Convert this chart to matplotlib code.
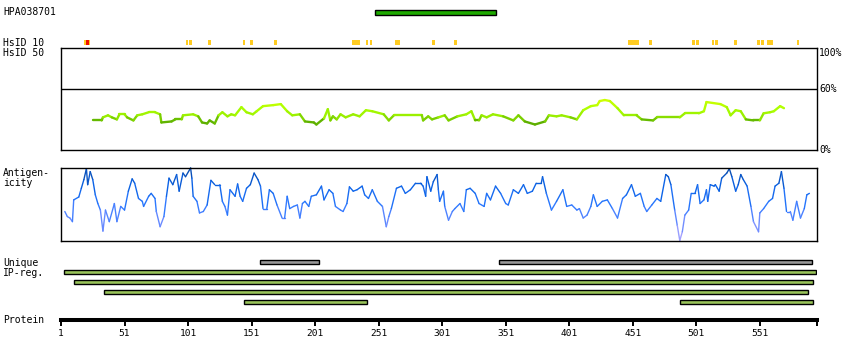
import numpy as np
import matplotlib
matplotlib.use('Agg')
import matplotlib.pyplot as plt
from matplotlib.collections import LineCollection
from matplotlib.colors import LinearSegmentedColormap

plt.rcParams['font.family'] = 'DejaVu Sans Mono'

W, H = 850, 360
L = 596  # protein length

antigen = 'HPA038701'
antigen_span = (248, 343)

# HsID 10 hits (start, end residue)
hsid10_yellow = [(19, 24), (99, 101), (102, 104), (117, 119), (144, 146), (150, 152),
                 (169, 171), (230, 236), (241, 243), (244, 246), (264, 268), (293, 295),
                 (310, 313), (447, 456), (464, 466), (498, 500), (501, 503), (513, 515),
                 (516, 518), (531, 533), (549, 551), (552, 554), (557, 561), (580, 582)]
hsid10_red = [(21, 23)]

# HsID 50 identity (%)
hsid50_res = [26, 33, 34, 38, 41, 45, 47, 51, 53, 58, 61, 65, 70, 75, 79, 80, 88, 91, 96, 97,
              105, 109, 112, 116, 118, 122, 125, 128, 132, 135, 138, 143, 147, 152, 155, 160,
              168, 174, 179, 183, 189, 193, 200, 202, 208, 211, 213, 215, 218, 221, 225, 231,
              236, 241, 246, 255, 259, 263, 285, 286, 290, 293, 298, 303, 306, 313, 320, 324,
              327, 330, 332, 336, 341, 349, 357, 361, 366, 374, 382, 385, 391, 395, 402, 407,
              412, 418, 423, 425, 429, 433, 439, 444, 454, 458, 467, 470, 488, 492, 503, 507,
              509, 520, 525, 528, 532, 536, 540, 546, 551, 554, 559, 562, 567, 570]
hsid50_pct = [29, 29, 32, 34, 32, 30, 35, 35, 32, 29, 34, 35, 37, 37, 35, 27, 28, 30, 30, 34,
              35, 33, 27, 26, 29, 26, 34, 37, 33, 35, 34, 42, 37, 35, 38, 43, 44, 45, 38, 34,
              35, 28, 27, 25, 31, 40, 29, 33, 30, 35, 32, 35, 33, 39, 38, 35, 29, 34, 34, 29,
              33, 30, 32, 34, 29, 33, 35, 38, 29, 29, 34, 32, 35, 33, 29, 34, 28, 25, 28, 34,
              33, 34, 32, 30, 39, 43, 44, 48, 49, 48, 41, 34, 34, 30, 29, 32, 32, 36, 36, 38,
              47, 45, 42, 34, 39, 38, 30, 29, 29, 36, 37, 38, 43, 41]

# antigenicity (relative, 0-100)
antig_res = [4, 6, 8, 10, 11, 15, 17, 19, 21, 22, 24, 26, 28, 30, 32, 34, 36, 39, 43, 45, 48,
             51, 54, 57, 59, 62, 65, 66, 70, 72, 75, 76, 79, 82, 84, 86, 89, 92, 94, 97, 99,
             103, 104, 105, 108, 110, 113, 116, 119, 122, 126, 128, 130, 132, 134, 138, 140,
             142, 144, 147, 150, 153, 156, 158, 160, 163, 165, 168, 171, 175, 177, 179, 181,
             184, 187, 189, 191, 193, 196, 198, 202, 206, 208, 212, 215, 217, 221, 223, 226,
             228, 231, 234, 238, 240, 243, 246, 250, 254, 257, 259, 261, 265, 269, 272, 276,
             280, 284, 286, 288, 289, 292, 294, 297, 298, 299, 302, 303, 306, 309, 311, 315,
             318, 320, 323, 327, 330, 334, 336, 339, 343, 347, 351, 353, 357, 361, 365, 368,
             372, 375, 379, 380, 383, 387, 391, 396, 399, 403, 407, 409, 412, 415, 418, 420,
             423, 427, 431, 435, 439, 443, 446, 450, 453, 457, 460, 462, 466, 470, 473, 477,
             479, 481, 484, 486, 488, 490, 492, 495, 497, 500, 502, 504, 507, 509, 510, 512,
             515, 516, 519, 521, 525, 527, 529, 532, 534, 536, 538, 541, 544, 546, 550, 551,
             554, 558, 561, 563, 566, 568, 570, 572, 575, 577, 580, 583, 586, 588, 590]
antig_val = [40, 33, 31, 26, 56, 60, 72, 84, 99, 77, 95, 84, 63, 51, 42, 13, 42, 26, 51, 26, 47,
             42, 68, 85, 79, 58, 54, 47, 61, 65, 58, 40, 19, 33, 61, 86, 77, 91, 68, 93, 88,
             100, 86, 61, 54, 38, 40, 49, 83, 77, 77, 54, 47, 35, 70, 61, 78,
             61, 54, 72, 77, 93, 84, 75, 44, 44, 70, 65, 49, 31, 31, 61, 44,
             47, 49, 31, 51, 54, 47, 61, 63, 75, 56, 70, 65, 47, 42, 40, 51,
             74, 68, 70, 75, 63, 58, 70, 54, 47, 19, 33, 44, 72, 75, 65, 70,
             79, 79, 75, 61, 88, 68, 81, 91, 70, 54, 68, 47, 28, 40, 44, 51,
             40, 70, 72, 65, 51, 47, 65, 56, 75, 65, 51, 49, 70, 65, 77, 65,
             68, 79, 79, 88, 65, 42, 54, 70, 47, 49, 42, 44, 31, 35, 47, 63,
             47, 54, 56, 44, 31, 58, 63, 77, 61, 65, 47, 40, 49, 58, 54, 91,
             88, 77, 42, 21, 0, 12, 35, 42, 65, 65, 77, 51, 56, 70, 54, 77,
             75, 77, 68, 86, 93, 99, 88, 68, 77, 91, 84, 75, 47, 26, 12, 38,
             44, 54, 58, 75, 79, 95, 72, 40, 40, 28, 54, 31, 44, 63, 65]

unique_regions = [(158, 204), (346, 592)]
ip_rows = [[(3, 595)], [(11, 593)], [(35, 589)], [(145, 242), (488, 593)]]

prot_ticks = [1, 51, 101, 151, 201, 251, 301, 351, 401, 451, 501, 551]

fig = plt.figure(figsize=(W / 100, H / 100), dpi=100)


def px_axes(x0, y0, x1, y1):
    # pixel box (top-left origin) -> figure axes
    return fig.add_axes([x0 / W, 1 - y1 / H, (x1 - x0) / W, (y1 - y0) / H])


def colored_line(ax, x, y, cmap, vmin, vmax, lw):
    pts = np.column_stack([x, y]).astype(float)
    segs = np.stack([pts[:-1], pts[1:]], axis=1)
    lc = LineCollection(segs, cmap=cmap, norm=plt.Normalize(vmin, vmax),
                        linewidths=lw, capstyle='round', clip_on=False)
    lc.set_array((pts[:-1, 1] + pts[1:, 1]) / 2)
    ax.add_collection(lc)


X0, X1 = 61, 817

# tracks (bars, hit marks) in pixel rows
ax = px_axes(X0, 0, X1, H)
ax.set_xlim(1, L)
ax.set_ylim(H, 0)
ax.axis('off')

ax.barh(12.3, antigen_span[1] - antigen_span[0], left=antigen_span[0], height=4.7,
        color='#1eaa00', edgecolor='black', linewidth=1)

for s, e in hsid10_yellow:
    ax.barh(42.5, e - s, left=s, height=5, color='#ffcc22', linewidth=0)
for s, e in hsid10_red:
    ax.barh(42.5, e - s, left=s, height=5, color='#ee1100', linewidth=0)

for s, e in unique_regions:
    ax.barh(262.3, e - s, left=s, height=4, color='#999999', edgecolor='black', linewidth=1)
for i, row in enumerate(ip_rows):
    for s, e in row:
        ax.barh(272.3 + 10 * i, e - s, left=s, height=4, color='#99c45a',
                edgecolor='black', linewidth=1)

# HsID 50 panel
ax_h = px_axes(X0, 48, X1, 150)
ax_h.set_xlim(1, L)
ax_h.set_ylim(0, 100)
ax_h.set_xticks([])
ax_h.set_yticks([])
for sp in ax_h.spines.values():
    sp.set_linewidth(1)
ax_h.axhline(60, color='black', lw=1)
green = LinearSegmentedColormap.from_list(
    'g', [(0, '#5aaa00'), (0.2, '#66bb00'), (0.35, '#99ee00'), (0.65, '#aaff00'), (1, '#ccff00')])
colored_line(ax_h, hsid50_res, hsid50_pct, green, 25, 48, 1.7)
for val, lab, va in [(100, '100%', 'top'), (60, '60%', 'center'), (0, '0%', 'center')]:
    ax_h.text(1.003, val, lab, transform=ax_h.get_yaxis_transform(), fontsize=7,
              va=va, ha='left')

# antigenicity panel
ax_a = px_axes(X0, 168, X1, 240.5)
ax_a.set_xlim(1, L)
ax_a.set_ylim(0, 100)
ax_a.set_xticks([])
ax_a.set_yticks([])
for sp in ax_a.spines.values():
    sp.set_linewidth(1)
blue = LinearSegmentedColormap.from_list('b', ['#b4a8ff', '#6e8cff', '#2a78ff', '#0a62e6', '#0a4aa8'])
colored_line(ax_a, antig_res, antig_val, blue, 0, 100, 1.0)

# protein axis
ax_p = px_axes(X0, 319.7, X1, 319.8)
ax_p.set_xlim(1, L)
ax_p.set_yticks([])
for k in ['top', 'left', 'right']:
    ax_p.spines[k].set_visible(False)
ax_p.spines['bottom'].set_linewidth(2.9)
ax_p.set_xticks(prot_ticks + [L], [str(t) for t in prot_ticks] + [''])
ax_p.tick_params(axis='x', length=4, width=1.4, pad=2.5, labelsize=6.8)

# row labels
labels = [('HPA038701', 12), ('HsID 10', 42.5), ('HsID 50', 52.5), ('Antigen-', 173),
          ('icity', 183), ('Unique', 263), ('IP-reg.', 273.5), ('Protein', 320)]
for txt, yp in labels:
    fig.text(3 / W, 1 - yp / H, txt, fontsize=7, va='center', ha='left')

fig.savefig('out.png', dpi=100, facecolor='white')
